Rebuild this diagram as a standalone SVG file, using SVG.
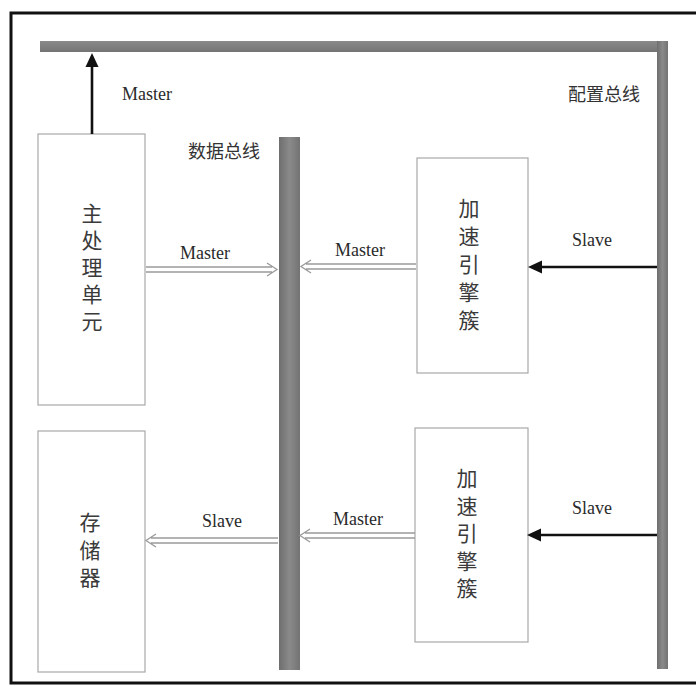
<svg xmlns="http://www.w3.org/2000/svg" width="696" height="686" viewBox="0 0 696 686">
<defs>
<style>
.lat{font-family:"Liberation Serif","Times New Roman",serif;font-size:18px;fill:#2a2a2a}
.cjk{font-family:"Noto Sans CJK SC","Noto Sans CJK JP",sans-serif;font-size:18px;fill:#333}
.box{fill:#fff;stroke:#a8a8a8;stroke-width:1.2}
.bc{font-family:"Noto Sans CJK SC","Noto Sans CJK JP",sans-serif;font-size:21px;fill:#3a3a3a;writing-mode:vertical-rl;text-orientation:upright}
.bus{fill:url(#g)}
.dbl{fill:none;stroke:#9a9a9a;stroke-width:1.3}
.blk{stroke:#111;stroke-width:2.6;fill:none}
</style>
<linearGradient id="g" x1="0" y1="0" x2="1" y2="0">
<stop offset="0" stop-color="#6e6e6e"/>
<stop offset="0.5" stop-color="#8a8a8a"/>
<stop offset="1" stop-color="#737373"/>
</linearGradient>
<linearGradient id="gh" x1="0" y1="0" x2="0" y2="1">
<stop offset="0" stop-color="#8a8a8a"/>
<stop offset="1" stop-color="#747474"/>
</linearGradient>
</defs>
<rect width="696" height="686" fill="#fff"/>
<path d="M696,13 H11 V683 H696" fill="none" stroke="#111" stroke-width="3"/>

<g id="config-bus">
<rect x="40" y="41" width="628" height="11" fill="url(#gh)"/>
<rect x="657" y="41" width="11" height="628" class="bus"/>
<text class="cjk" x="568" y="101">配置总线</text>
</g>

<g id="data-bus">
<rect x="279" y="137" width="21" height="533" class="bus"/>
<text class="cjk" x="188" y="158">数据总线</text>
</g>

<g id="cpu">
<rect class="box" x="38" y="134" width="107" height="271"/>
<text class="bc" x="92" y="203" letter-spacing="6">主处理单元</text>
</g>

<g id="memory">
<rect class="box" x="38" y="431" width="107" height="241"/>
<text class="bc" x="90" y="512" letter-spacing="6.5">存储器</text>
</g>

<g id="accel1">
<rect class="box" x="417" y="158" width="111" height="215"/>
<text class="bc" x="469" y="198" letter-spacing="7">加速引擎簇</text>
</g>

<g id="accel2">
<rect class="box" x="415" y="428" width="113" height="214"/>
<text class="bc" x="467" y="468" letter-spacing="6.5">加速引擎簇</text>
</g>

<g id="connectors">
<line class="blk" x1="92" y1="134" x2="92" y2="63"/>
<polygon points="92,53 85.5,67 98.5,67" fill="#111"/>
<text class="lat" x="122" y="100">Master</text>

<path class="dbl" d="M146,267 H272 M146,272 H272 M267,263 L277,269.5 L267,276"/>
<text class="lat" x="180" y="259">Master</text>

<path class="dbl" d="M416,264 H306 M416,269 H306 M311,260 L301,266.5 L311,273"/>
<text class="lat" x="335" y="256">Master</text>

<path class="dbl" d="M278,538 H151 M278,543 H151 M156,534 L146,540.5 L156,547"/>
<text class="lat" x="202" y="527">Slave</text>

<path class="dbl" d="M415,533 H305 M415,538 H305 M310,529 L300,535.5 L310,542"/>
<text class="lat" x="333" y="525">Master</text>

<line class="blk" x1="657" y1="267" x2="538" y2="267"/>
<polygon points="528,267 542,260.5 542,273.5" fill="#111"/>
<text class="lat" x="572" y="246">Slave</text>

<line class="blk" x1="657" y1="535" x2="537" y2="535"/>
<polygon points="527,535 541,528.5 541,541.5" fill="#111"/>
<text class="lat" x="572" y="514">Slave</text>
</g>
</svg>
